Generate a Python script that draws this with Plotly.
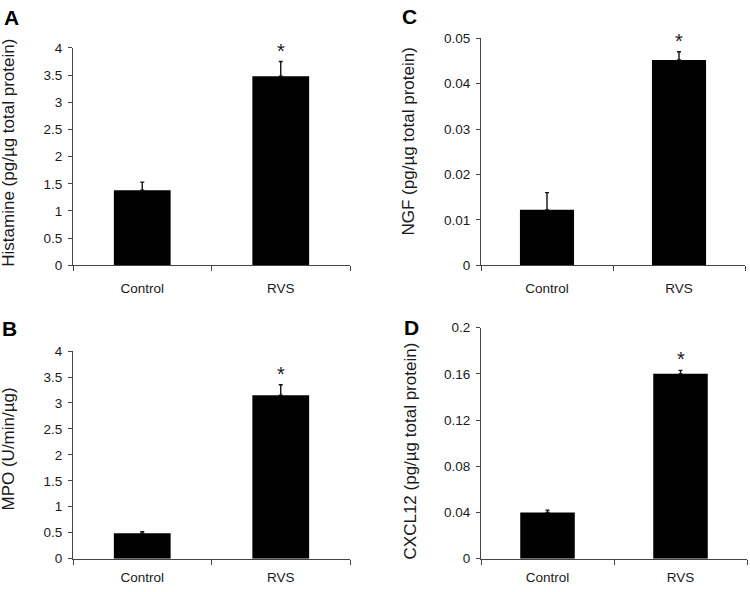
import plotly.graph_objects as go

categories = ["Control", "RVS"]

histamine_mean = [1.38, 3.48]
histamine_err = [0.15, 0.27]

mpo_mean = [0.49, 3.15]
mpo_err = [0.03, 0.20]

ngf_mean = [0.0122, 0.0452]
ngf_err = [0.0038, 0.0018]

cxcl12_mean = [0.040, 0.160]
cxcl12_err = [0.002, 0.003]

panels = [
    dict(letter="A", title="Histamine (pg/µg total protein)", mean=histamine_mean, err=histamine_err,
         dtick=0.5, ymax=4, xd=(73, 350), yd=(42, 265), lp=(2, 10.5), tp=(8.5, 150), lstand=12),
    dict(letter="B", title="MPO (U/min/µg)", mean=mpo_mean, err=mpo_err,
         dtick=0.5, ymax=4, xd=(73, 350), yd=(353, 566), lp=(0, 330), tp=(8, 454), lstand=7),
    dict(letter="C", title="NGF (pg/µg total protein)", mean=ngf_mean, err=ngf_err,
         dtick=0.01, ymax=0.05, xd=(481, 745), yd=(32, 265), lp=(400, 10), tp=(409, 138), lstand=12),
    dict(letter="D", title="CXCL12 (pg/µg total protein)", mean=cxcl12_mean, err=cxcl12_err,
         dtick=0.04, ymax=0.2, xd=(481, 747), yd=(329, 566), lp=(402, 328.5), tp=(410, 456), lstand=7),
]

W, H = 750, 592
FONT = "Arial, Liberation Sans, sans-serif"

fig = go.Figure()
layout = dict(
    width=W, height=H, margin=dict(l=0, r=0, t=0, b=0),
    paper_bgcolor="white", plot_bgcolor="white", showlegend=False,
    font=dict(family=FONT, color="#1a1a1a"),
    annotations=[],
)

for i, p in enumerate(panels):
    n = "" if i == 0 else str(i + 1)
    xa, ya = "x" + n, "y" + n
    fig.add_trace(go.Bar(
        x=categories, y=p["mean"], xaxis=xa, yaxis=ya,
        width=0.41, marker=dict(color="black", line=dict(width=0)),
        error_y=dict(type="data", array=p["err"], arrayminus=[0, 0], symmetric=False,
                     color="#111111", thickness=1.4, width=2),
    ))
    ntick = int(round(p["ymax"] / p["dtick"]))
    tv = [round(k * p["dtick"], 4) for k in range(ntick + 1)]
    layout["xaxis" + n] = dict(
        domain=[p["xd"][0] / W, p["xd"][1] / W], anchor=ya,
        type="category", range=[-0.5, 1.5], tickson="boundaries",
        ticks="outside", ticklen=5, tickcolor="#444", tickwidth=1,
        showline=True, linecolor="#444", linewidth=1, showgrid=False, zeroline=False,
        tickfont=dict(size=13.5, family=FONT, color="#1a1a1a"), ticklabelstandoff=p["lstand"] - 1,
        fixedrange=True,
    )
    layout["yaxis" + n] = dict(
        domain=[1 - p["yd"][1] / H, 1 - p["yd"][0] / H], anchor=xa,
        range=[0, p["ymax"]], tickvals=tv,
        ticks="outside", ticklen=4, tickcolor="#444", tickwidth=1,
        showline=True, linecolor="#444", linewidth=1, showgrid=False, zeroline=False,
        tickfont=dict(size=13.5, family=FONT, color="#1a1a1a"), ticklabelstandoff=3,
        fixedrange=True,
    )
    # significance star above RVS
    layout["annotations"].append(dict(
        x=categories[1], y=p["mean"][1] + p["err"][1], xref=xa, yref=ya,
        text="*", showarrow=False, yanchor="middle", yshift=11,
        font=dict(size=20, family=FONT, color="#1a1a1a"),
    ))
    # panel letter
    layout["annotations"].append(dict(
        x=p["lp"][0] / W, y=1 - p["lp"][1] / H, xref="paper", yref="paper",
        xanchor="left", yanchor="middle", text="<b>%s</b>" % p["letter"], showarrow=False,
        font=dict(size=21, family=FONT, color="black"),
    ))
    # y-axis title
    layout["annotations"].append(dict(
        x=p["tp"][0] / W, y=1 - p["tp"][1] / H, xref="paper", yref="paper",
        xanchor="center", yanchor="middle", text=p["title"], textangle=-90, showarrow=False,
        font=dict(size=17, family=FONT, color="#1a1a1a"),
    ))

fig.update_layout(**layout)
fig.write_html("out.html", config={"displayModeBar": False},
               post_script="document.body.style.margin='0';")
